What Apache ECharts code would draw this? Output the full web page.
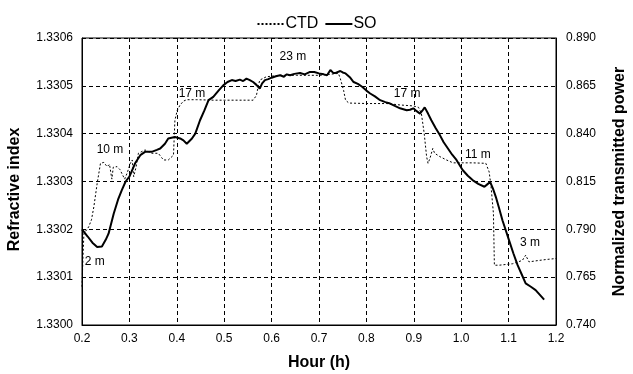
<!DOCTYPE html>
<html>
<head>
<meta charset="utf-8">
<script src="https://cdn.jsdelivr.net/npm/echarts@6/dist/echarts.min.js"></script>
<style>
  html, body { margin: 0; padding: 0; background: #fff; }
  #chart { width: 633px; height: 374px; }
</style>
</head>
<body>
<div id="chart"></div>
<script>
// CTD: refractive index vs hour (left axis)
const ctdHours = [
  0.200, 0.202, 0.204, 0.214, 0.220, 0.225, 0.232, 0.239, 0.246, 0.253,
  0.258, 0.263, 0.266, 0.274, 0.280, 0.284, 0.290, 0.295, 0.302, 0.306,
  0.309, 0.314, 0.319, 0.333, 0.347, 0.361, 0.368, 0.372, 0.382, 0.393,
  0.396, 0.401, 0.407, 0.414, 0.421, 0.442, 0.477, 0.512, 0.561, 0.568,
  0.572, 0.575, 0.589, 0.618, 0.653, 0.702, 0.741, 0.745, 0.752, 0.756,
  0.763, 0.801, 0.843, 0.871, 0.899, 0.910, 0.916, 0.922, 0.927, 0.930,
  0.934, 0.940, 0.944, 0.955, 0.969, 0.983, 1.000, 1.024, 1.052, 1.059,
  1.063, 1.068, 1.070, 1.080, 1.108, 1.129, 1.136, 1.143, 1.164, 1.180,
  1.200
];
const ctdIndex = [
  1.33008, 1.33014, 1.330191, 1.330205, 1.33022, 1.330247, 1.330296, 1.330338, 1.33034, 1.330331,
  1.330336, 1.330305, 1.33033, 1.330331, 1.330325, 1.330327, 1.330305, 1.330317, 1.330338, 1.330345,
  1.33031, 1.33033, 1.330359, 1.330366, 1.330359, 1.330359, 1.33035, 1.330345, 1.330345, 1.330355,
  1.330428, 1.330449, 1.33046, 1.330468, 1.330471, 1.330471, 1.33047, 1.33047, 1.33047, 1.33048,
  1.3305, 1.330512, 1.330519, 1.330522, 1.330522, 1.330522, 1.330526, 1.330515, 1.33049, 1.33047,
  1.330464, 1.330463, 1.330463, 1.33046, 1.330458, 1.330455, 1.330442, 1.3304, 1.330352, 1.330338,
  1.330348, 1.330369, 1.330359, 1.330352, 1.330345, 1.330339, 1.330339, 1.330339, 1.330338, 1.33032,
  1.330289, 1.330233, 1.330125, 1.330125, 1.330128, 1.330135, 1.330146, 1.330132, 1.330135, 1.330137,
  1.330139
];

// SO: normalized transmitted power vs hour (right axis)
const soHours = [
  0.200, 0.212, 0.222, 0.232, 0.242, 0.250, 0.256, 0.267, 0.276, 0.284,
  0.292, 0.300, 0.312, 0.323, 0.333, 0.347, 0.358, 0.365, 0.375, 0.382,
  0.396, 0.407, 0.414, 0.421, 0.432, 0.439, 0.449, 0.458, 0.467, 0.477,
  0.488, 0.498, 0.507, 0.516, 0.524, 0.533, 0.540, 0.547, 0.554, 0.561,
  0.568, 0.575, 0.580, 0.586, 0.593, 0.600, 0.609, 0.618, 0.626, 0.632,
  0.639, 0.648, 0.660, 0.670, 0.681, 0.690, 0.700, 0.710, 0.717, 0.724,
  0.730, 0.735, 0.745, 0.750, 0.756, 0.765, 0.773, 0.782, 0.791, 0.800,
  0.808, 0.818, 0.829, 0.840, 0.850, 0.860, 0.871, 0.878, 0.885, 0.892,
  0.899, 0.906, 0.913, 0.918, 0.923, 0.930, 0.937, 0.946, 0.955, 0.963,
  0.972, 0.981, 0.990, 1.003, 1.014, 1.024, 1.036, 1.049, 1.055, 1.061,
  1.067, 1.073, 1.080, 1.087, 1.094, 1.101, 1.110, 1.119, 1.128, 1.136,
  1.147, 1.157, 1.166, 1.175
];
const soPower = [
  0.790, 0.78625, 0.783, 0.78075, 0.781, 0.7845, 0.78775, 0.79825, 0.8055, 0.8105,
  0.815, 0.8175, 0.8245, 0.82875, 0.8305, 0.8305, 0.8315, 0.83225, 0.83475, 0.8375,
  0.83825, 0.8375, 0.8365, 0.83475, 0.8375, 0.840, 0.847, 0.852, 0.8575, 0.85925,
  0.8625, 0.86525, 0.867, 0.868, 0.8675, 0.86825, 0.8675, 0.86875, 0.868, 0.867,
  0.8655, 0.8635, 0.86625, 0.868, 0.8685, 0.86925, 0.870, 0.8705, 0.86975, 0.871,
  0.8705, 0.87125, 0.87175, 0.871, 0.87225, 0.87225, 0.8715, 0.871, 0.8705, 0.87325,
  0.87175, 0.87175, 0.87275, 0.872, 0.8715, 0.8695, 0.867, 0.866, 0.8645, 0.8625,
  0.861, 0.8595, 0.8575, 0.8565, 0.85575, 0.8545, 0.85325, 0.85275, 0.85225, 0.8525,
  0.85325, 0.85175, 0.8505, 0.852, 0.85375, 0.8505, 0.847, 0.843, 0.83925, 0.8355,
  0.83225, 0.829, 0.82625, 0.821, 0.818, 0.81575, 0.81375, 0.81225, 0.8135, 0.81475,
  0.81125, 0.807, 0.801, 0.79475, 0.7895, 0.78425, 0.7775, 0.77125, 0.76625, 0.76175,
  0.760, 0.75825, 0.75575, 0.75325
];

// depth labels, placed in data coords (hour, refractive index)
const depthLabels = ["23 m", "17 m", "10 m", "2 m", "17 m", "11 m", "3 m"];
const depthHours = [0.645, 0.432, 0.259, 0.227, 0.886, 1.035, 1.145];
const depthIndex = [1.330561, 1.330483, 1.330366, 1.330132, 1.330483, 1.330356, 1.330172];

const FONT = "Liberation Sans";
const chart = echarts.init(document.getElementById("chart"));

const zip = (xs, ys) => xs.map((x, i) => [x, ys[i]]);
const dashed = { show: true, lineStyle: { color: "#000", type: [4, 3], width: 1 } };
const titleStyle = { fontSize: 16, fontWeight: "bold", color: "#000", fontFamily: FONT };

chart.setOption({
  animation: false,
  textStyle: { fontFamily: FONT, color: "#000" },
  legend: {
    top: 11,
    left: "center",
    itemWidth: 27,
    itemHeight: 10,
    itemGap: 6,
    itemStyle: { opacity: 0 },
    textStyle: { fontSize: 16, color: "#000", fontFamily: FONT, padding: [0, 0, 0, -4] },
    data: ["CTD", "SO"],
  },
  grid: {
    left: 82,
    right: 77,
    top: 38,
    bottom: 49,
    outerBoundsMode: "none",
    containLabel: false,
    show: true,
    borderColor: "#000",
    borderWidth: 1,
  },
  xAxis: {
    type: "value",
    min: 0.2,
    max: 1.2,
    interval: 0.1,
    name: "Hour (h)",
    nameLocation: "middle",
    nameGap: 30,
    nameTextStyle: titleStyle,
    axisLine: { show: true, lineStyle: { color: "#000" } },
    axisTick: { show: false },
    axisLabel: { fontSize: 12, color: "#000", margin: 8, formatter: (v) => v.toFixed(1) },
    splitLine: dashed,
  },
  yAxis: [
    {
      type: "value",
      min: 1.33,
      max: 1.3306,
      interval: 0.0001,
      name: "Refractive index",
      nameLocation: "middle",
      nameGap: 59,
      nameTextStyle: Object.assign({}, titleStyle, { padding: [0, 16, 0, 0] }),
      axisLine: { show: true, lineStyle: { color: "#000" } },
      axisTick: { show: false },
      axisLabel: { fontSize: 12, color: "#000", margin: 9, formatter: (v) => v.toFixed(4) },
      splitLine: dashed,
    },
    {
      type: "value",
      min: 0.74,
      max: 0.89,
      interval: 0.025,
      position: "right",
      name: "Normalized transmitted power",
      nameLocation: "middle",
      nameGap: 56,
      nameRotate: 90,
      nameTextStyle: titleStyle,
      axisLine: { show: true, lineStyle: { color: "#000" } },
      axisTick: { show: false },
      axisLabel: { fontSize: 12, color: "#000", margin: 10, formatter: (v) => v.toFixed(3) },
      splitLine: { show: false },
    },
  ],
  series: [
    {
      name: "CTD",
      type: "line",
      yAxisIndex: 0,
      data: zip(ctdHours, ctdIndex),
      symbol: "none",
      lineStyle: { color: "#000", width: 1, type: [2, 2] },
      itemStyle: { color: "#000" },
      z: 3,
      markPoint: {
        symbol: "circle",
        symbolSize: 0,
        label: { show: true, color: "#000", fontSize: 12, fontFamily: FONT, position: "inside" },
        data: depthLabels.map((t, i) => ({
          coord: [depthHours[i], depthIndex[i]],
          value: t,
          label: { formatter: t },
        })),
      },
    },
    {
      name: "SO",
      type: "line",
      yAxisIndex: 1,
      data: zip(soHours, soPower),
      symbol: "none",
      lineStyle: { color: "#000", width: 2 },
      itemStyle: { color: "#000" },
      z: 4,
    },
  ],
});

window.addEventListener("resize", () => chart.resize());
</script>
</body>
</html>
